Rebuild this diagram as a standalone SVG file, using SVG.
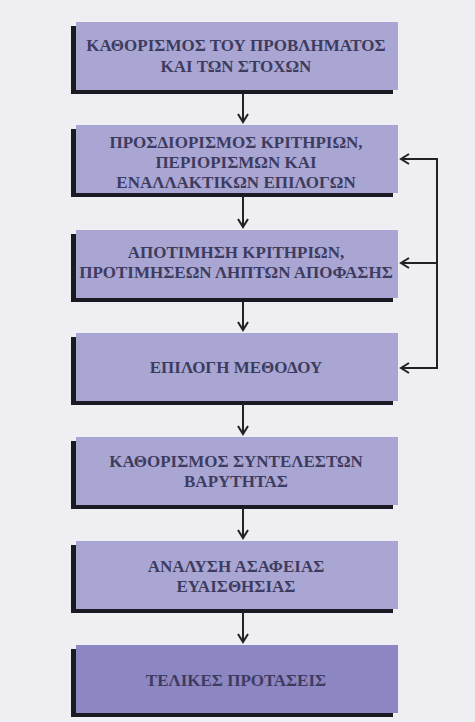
<svg xmlns="http://www.w3.org/2000/svg" width="475" height="722" viewBox="0 0 475 722">
<defs>
<style>
.bg{fill:#efeef2}
.sh{fill:#1a1a22}
.bx{fill:#a9a6d3}
.bx7{fill:#8c86c2}
.t{font-family:"Liberation Serif","Times New Roman",serif;font-weight:bold;font-size:17px;fill:#3e3c5e;text-anchor:middle}
.c{stroke:#222;stroke-width:2;fill:none}
</style>
<marker id="ah" viewBox="0 0 12 12" refX="10" refY="6" markerWidth="12" markerHeight="12" markerUnits="userSpaceOnUse" orient="auto">
<path d="M2,1 L10,6 L2,11" fill="none" stroke="#222" stroke-width="2"/>
</marker>
</defs>
<rect class="bg" x="0" y="0" width="475" height="722"/>
<g id="n1">
<rect class="sh" x="71" y="26" width="322" height="68"/>
<rect class="bx" x="76" y="22" width="322" height="68"/>
<text class="t" x="236" y="51">ΚΑΘΟΡΙΣΜΟΣ ΤΟΥ ΠΡΟΒΛΗΜΑΤΟΣ</text>
<text class="t" x="236" y="72">ΚΑΙ ΤΩΝ ΣΤΟΧΩΝ</text>
</g>
<g id="n2">
<rect class="sh" x="71" y="129" width="322" height="68"/>
<rect class="bx" x="76" y="125" width="322" height="68"/>
<text class="t" x="236" y="148">ΠΡΟΣΔΙΟΡΙΣΜΟΣ ΚΡΙΤΗΡΙΩΝ,</text>
<text class="t" x="236" y="168">ΠΕΡΙΟΡΙΣΜΩΝ ΚΑΙ</text>
<text class="t" x="236" y="188">ΕΝΑΛΛΑΚΤΙΚΩΝ ΕΠΙΛΟΓΩΝ</text>
</g>
<g id="n3">
<rect class="sh" x="71" y="234" width="322" height="68"/>
<rect class="bx" x="76" y="230" width="322" height="68"/>
<text class="t" x="236" y="258">ΑΠΟΤΙΜΗΣΗ ΚΡΙΤΗΡΙΩΝ,</text>
<text class="t" x="236" y="278">ΠΡΟΤΙΜΗΣΕΩΝ ΛΗΠΤΩΝ ΑΠΟΦΑΣΗΣ</text>
</g>
<g id="n4">
<rect class="sh" x="71" y="337" width="322" height="68"/>
<rect class="bx" x="76" y="333" width="322" height="68"/>
<text class="t" x="236" y="373">ΕΠΙΛΟΓΗ ΜΕΘΟΔΟΥ</text>
</g>
<g id="n5">
<rect class="sh" x="71" y="441" width="322" height="68"/>
<rect class="bx" x="76" y="437" width="322" height="68"/>
<text class="t" x="236" y="467">ΚΑΘΟΡΙΣΜΟΣ ΣΥΝΤΕΛΕΣΤΩΝ</text>
<text class="t" x="236" y="487">ΒΑΡΥΤΗΤΑΣ</text>
</g>
<g id="n6">
<rect class="sh" x="71" y="545" width="322" height="68"/>
<rect class="bx" x="76" y="541" width="322" height="68"/>
<text class="t" x="236" y="572">ΑΝΑΛΥΣΗ ΑΣΑΦΕΙΑΣ</text>
<text class="t" x="236" y="592">ΕΥΑΙΣΘΗΣΙΑΣ</text>
</g>
<g id="n7">
<rect class="sh" x="71" y="649" width="322" height="68"/>
<rect class="bx7" x="76" y="645" width="322" height="68"/>
<text class="t" x="236" y="686">ΤΕΛΙΚΕΣ ΠΡΟΤΑΣΕΙΣ</text>
</g>
<g id="connectors">
<line class="c" x1="243" y1="94" x2="243" y2="122" marker-end="url(#ah)"/>
<line class="c" x1="243" y1="197" x2="243" y2="227" marker-end="url(#ah)"/>
<line class="c" x1="243" y1="302" x2="243" y2="330" marker-end="url(#ah)"/>
<line class="c" x1="243" y1="405" x2="243" y2="434" marker-end="url(#ah)"/>
<line class="c" x1="243" y1="509" x2="243" y2="538" marker-end="url(#ah)"/>
<line class="c" x1="243" y1="613" x2="243" y2="642" marker-end="url(#ah)"/>
<path class="c" d="M437,159 L437,368"/>
<line class="c" x1="438" y1="159" x2="401" y2="159" marker-end="url(#ah)"/>
<line class="c" x1="437" y1="263" x2="401" y2="263" marker-end="url(#ah)"/>
<line class="c" x1="438" y1="368" x2="401" y2="368" marker-end="url(#ah)"/>
</g>
</svg>
